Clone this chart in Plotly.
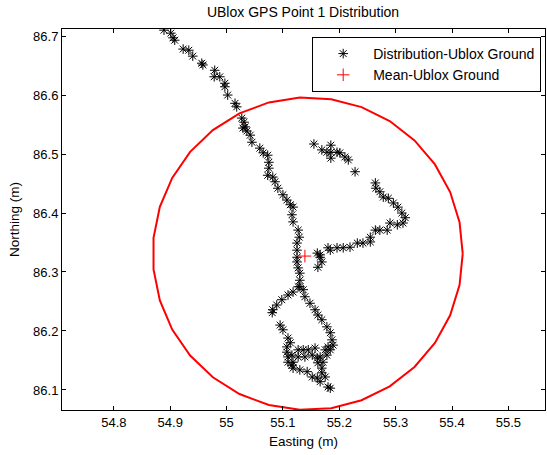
import numpy as np
import plotly.graph_objects as go

title = "UBlox GPS Point 1 Distribution"
x_label = "Easting (m)"
y_label = "Northing (m)"
x_ticks = [54.8, 54.9, 55.0, 55.1, 55.2, 55.3, 55.4, 55.5]
x_ticktext = ["54.8", "54.9", "55", "55.1", "55.2", "55.3", "55.4", "55.5"]
y_ticks = [86.1, 86.2, 86.3, 86.4, 86.5, 86.6, 86.7]
y_ticktext = ["86.1", "86.2", "86.3", "86.4", "86.5", "86.6", "86.7"]

# Distribution points (Easting, Northing)
east = [
    54.889, 54.901, 54.905, 54.908, 54.923, 54.933, 54.940, 54.956, 54.958, 54.979,
    54.978, 54.988, 54.997, 54.997, 55.002, 55.015, 55.018, 55.027, 55.029, 55.031,
    55.033, 55.036, 55.042, 55.045, 55.059, 55.065, 55.073, 55.075, 55.075, 55.073,
    55.082, 55.086, 55.091, 55.100, 55.107, 55.113, 55.118, 55.116, 55.118, 55.127,
    55.129, 55.125, 55.125, 55.125, 55.125, 55.127, 55.130, 55.130, 55.130, 55.127,
    55.136, 55.118, 55.109, 55.098, 55.089, 55.082, 55.081, 55.095, 55.100, 55.109,
    55.113, 55.107, 55.107, 55.109, 55.109, 55.116, 55.118, 55.130, 55.143, 55.152,
    55.161, 55.166, 55.175, 55.180, 55.184, 55.118, 55.116, 55.127, 55.127, 55.136,
    55.139, 55.145, 55.152, 55.157, 55.161, 55.162, 55.169, 55.169, 55.139, 55.148,
    55.157, 55.162, 55.169, 55.178, 55.184, 55.187, 55.189, 55.180, 55.175, 55.184,
    55.178, 55.166, 55.171, 55.161, 55.166, 55.169, 55.162, 55.166, 55.184, 55.180,
    55.196, 55.207, 55.219, 55.232, 55.242, 55.255, 55.255, 55.264, 55.272, 55.285,
    55.290, 55.303, 55.313, 55.317, 55.311, 55.304, 55.296, 55.287, 55.278, 55.272,
    55.265, 55.264, 55.155, 55.169, 55.178, 55.185, 55.185, 55.185, 55.196, 55.201,
    55.210, 55.216, 55.228,
]
north = [
    86.710, 86.705, 86.697, 86.693, 86.678, 86.676, 86.666, 86.654, 86.651, 86.642,
    86.631, 86.631, 86.620, 86.614, 86.600, 86.586, 86.580, 86.561, 86.544, 86.554,
    86.546, 86.539, 86.532, 86.520, 86.510, 86.502, 86.498, 86.486, 86.476, 86.464,
    86.461, 86.453, 86.442, 86.431, 86.422, 86.414, 86.410, 86.397, 86.385, 86.371,
    86.359, 86.349, 86.337, 86.325, 86.317, 86.307, 86.298, 86.286, 86.275, 86.275,
    86.270, 86.266, 86.261, 86.253, 86.244, 86.236, 86.231, 86.210, 86.202, 86.188,
    86.180, 86.173, 86.164, 86.156, 86.147, 86.142, 86.137, 86.134, 86.131, 86.122,
    86.120, 86.114, 86.122, 86.105, 86.103, 86.147, 86.159, 86.168, 86.156, 86.168,
    86.156, 86.168, 86.159, 86.171, 86.154, 86.146, 86.137, 86.129, 86.258, 86.247,
    86.236, 86.227, 86.219, 86.207, 86.197, 86.185, 86.176, 86.173, 86.168, 86.168,
    86.159, 86.156, 86.147, 86.332, 86.325, 86.317, 86.308, 86.329, 86.337, 86.341,
    86.341, 86.341, 86.342, 86.349, 86.349, 86.351, 86.359, 86.371, 86.371, 86.371,
    86.383, 86.380, 86.383, 86.392, 86.400, 86.410, 86.417, 86.425, 86.427, 86.436,
    86.442, 86.451, 86.517, 86.507, 86.503, 86.515, 86.503, 86.493, 86.503, 86.502,
    86.495, 86.490, 86.470,
]

mean_east = [55.139]
mean_north = [86.327]
circle_center = (55.144, 86.331)
circle_radius_e = 0.275
circle_radius_n = 0.265
circle_segments = 31

theta = np.linspace(0, 2 * np.pi, circle_segments + 1)
cx = circle_center[0] + circle_radius_e * np.cos(theta)
cy = circle_center[1] + circle_radius_n * np.sin(theta)

font = "Liberation Sans, Arial, sans-serif"

fig = go.Figure()
fig.add_trace(go.Scatter(
    x=east, y=north, mode="markers", name="Distribution-Ublox Ground",
    marker=dict(symbol="asterisk-open", size=8, color="black",
                line=dict(color="black", width=1)),
))
fig.add_trace(go.Scatter(
    x=mean_east, y=mean_north, mode="markers", name="Mean-Ublox Ground",
    marker=dict(symbol="cross-thin-open", size=9, color="red",
                line=dict(color="red", width=1)),
))
fig.add_trace(go.Scatter(
    x=cx, y=cy, mode="lines", showlegend=False,
    line=dict(color="red", width=2), hoverinfo="skip",
))

axis_common = dict(
    showgrid=False, zeroline=False, showline=True, linecolor="black",
    linewidth=1, mirror="ticks", ticks="inside", ticklen=4,
    tickcolor="black", tickfont=dict(family=font, size=13, color="black"),
)

fig.update_layout(
    width=547, height=455,
    margin=dict(l=62, r=2, t=29, b=45),
    paper_bgcolor="white", plot_bgcolor="white",
    title=dict(text=title, x=0.554, xanchor="center", y=0.984, yanchor="top",
               font=dict(family=font, size=14, color="black")),
    xaxis=dict(range=[54.708, 55.565], tickvals=x_ticks, ticktext=x_ticktext,
               title=dict(text=x_label, font=dict(family=font, size=13.5, color="black"),
                          standoff=7),
               **axis_common),
    yaxis=dict(range=[86.066, 86.712], tickvals=y_ticks, ticktext=y_ticktext,
               title=dict(text=y_label, font=dict(family=font, size=13.5, color="black"),
                          standoff=10),
               **axis_common),
    legend=dict(x=0.518, y=0.979, xanchor="left", yanchor="top",
                bgcolor="white", bordercolor="black", borderwidth=1,
                font=dict(family=font, size=14, color="black"),
                tracegroupgap=0, itemwidth=50),
    showlegend=True,
)

fig.write_html("out.html")
